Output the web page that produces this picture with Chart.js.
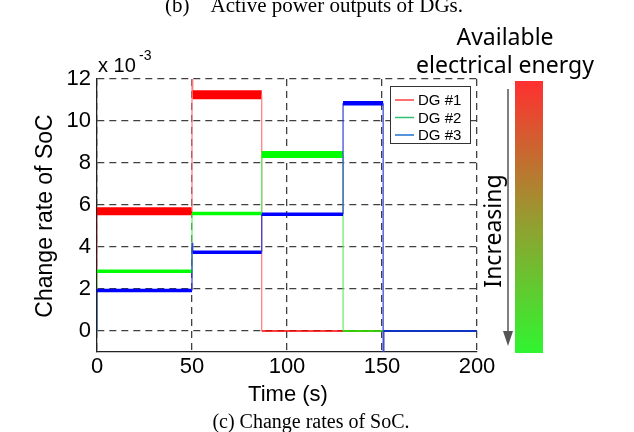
<!DOCTYPE html>
<html>
<head>
<meta charset="utf-8">
<script src="https://cdn.jsdelivr.net/npm/chart.js@4.4.1/dist/chart.umd.min.js"></script>
<style>
  body { margin: 0; background: #fff; }
</style>
</head>
<body>
<canvas id="chart1" width="634" height="432"></canvas>
<script>
// ejes
var xTicks = [0, 50, 100, 150, 200];
var yTicks = [0, 2, 4, 6, 8, 10, 12];
var etiquetas = ["DG #1", "DG #2", "DG #3"];

// cada serie: instante en que empieza cada tramo (s) y su valor (x 10^-3)
var dg1Tiempos = [0, 50, 50.4, 86.7];
var dg1Valores = [5.7, 12, 11.25, 0];
var dg2Tiempos = [0, 50, 86.7, 129.5];
var dg2Valores = [2.85, 5.6, 8.4, 0];
var dg3Tiempos = [0, 50, 50.4, 86.7, 129.5, 150.6, 151.0];
var dg3Valores = [1.93, 4.2, 3.75, 5.56, 10.85, -1, 0];

// grosor de cada tramo horizontal (ruido de la medida)
var grosor1 = [8, 3, 9, 1.5];
var grosor2 = [3.5, 3.5, 7, 1.5];
var grosor3 = [3.5, 3, 3.5, 3.5, 4.5, 1.5, 1.5];

function escalones(tiempos, valores) {
  var pts = [{x: 0, y: 0}];
  for (var i = 0; i < tiempos.length; i++) {
    var fin = i + 1 < tiempos.length ? tiempos[i + 1] : 200;
    pts.push({x: tiempos[i], y: valores[i]});
    pts.push({x: fin, y: valores[i]});
  }
  return pts;
}

function serie(label, tiempos, valores, grosor, color, colorVertical, orden) {
  return {
    label: label,
    data: escalones(tiempos, valores),
    borderColor: color,
    pointRadius: 0,
    tension: 0,
    order: orden,
    segment: {
      borderWidth: function(ctx) {
        if (ctx.p0DataIndex % 2 == 0) return 1.2;
        return grosor[(ctx.p0DataIndex - 1) / 2];
      },
      borderColor: function(ctx) {
        return ctx.p0DataIndex % 2 == 0 ? colorVertical : color;
      }
    }
  };
}

var textos = {
  id: "textos",
  afterDraw: function(chart) {
    var c = chart.ctx;
    c.save();
    c.fillStyle = "#000";

    // titulos superior e inferior
    c.font = "21px 'Liberation Serif'";
    c.textAlign = "center";
    c.textBaseline = "alphabetic";
    c.fillText("(b)    Active power outputs of DGs.", 314, 12);
    c.font = "20px 'Liberation Serif'";
    c.fillText("(c) Change rates of SoC.", 311, 428);

    c.font = "22px 'Liberation Sans'";
    c.fillText("Time (s)", 288, 401);

    c.save();
    c.translate(46, 216);
    c.rotate(-Math.PI / 2);
    c.textBaseline = "middle";
    c.font = "23px 'Liberation Sans'";
    c.fillText("Change rate of SoC", 0, 0);
    c.restore();

    // factor de escala
    c.textAlign = "left";
    c.font = "20px 'Liberation Sans'";
    c.fillText("x 10", 98, 72);
    c.font = "14px 'Liberation Sans'";
    c.fillText("-3", 139, 60);

    // leyenda
    var colores = ["#ff4040", "#30c070", "#2070d0"];
    c.fillStyle = "#fff";
    c.fillRect(390, 86, 80, 57);
    c.strokeStyle = "#333";
    c.lineWidth = 1;
    c.strokeRect(390.5, 86.5, 80, 57);
    c.font = "15px 'Liberation Sans'";
    c.textBaseline = "middle";
    for (var i = 0; i < etiquetas.length; i++) {
      var yy = 100 + i * 17.5;
      c.strokeStyle = colores[i];
      c.lineWidth = 1.5;
      c.beginPath();
      c.moveTo(395, yy);
      c.lineTo(414, yy);
      c.stroke();
      c.fillStyle = "#000";
      c.fillText(etiquetas[i], 418, yy + 1);
    }

    // barra de energia disponible
    var g = c.createLinearGradient(0, 81, 0, 353);
    g.addColorStop(0, "#ff3030");
    g.addColorStop(0.5, "#989a30");
    g.addColorStop(1, "#30f530");
    c.fillStyle = g;
    c.fillRect(515, 81, 28, 272);

    c.strokeStyle = "#555";
    c.fillStyle = "#555";
    c.lineWidth = 1.5;
    c.beginPath();
    c.moveTo(508, 89);
    c.lineTo(508, 332);
    c.stroke();
    c.beginPath();
    c.moveTo(503, 331);
    c.lineTo(513, 331);
    c.lineTo(508, 346);
    c.closePath();
    c.fill();

    c.fillStyle = "#000";
    c.font = "23px 'Noto Sans'";
    c.textAlign = "center";
    c.textBaseline = "alphabetic";
    c.fillText("Available", 505, 45);
    c.fillText("electrical energy", 505, 73);

    c.save();
    c.translate(494, 231);
    c.rotate(-Math.PI / 2);
    c.textBaseline = "middle";
    c.fillText("Increasing", 0, 0);
    c.restore();

    c.restore();
  }
};

var grafico1 = new Chart(document.getElementById("chart1"), {
  type: "line",
  data: {
    datasets: [
      serie(etiquetas[0], dg1Tiempos, dg1Valores, grosor1, "#ff0000", "#ff7878", 3),
      serie(etiquetas[1], dg2Tiempos, dg2Valores, grosor2, "#00ff00", "#60f060", 2),
      serie(etiquetas[2], dg3Tiempos, dg3Valores, grosor3, "#0000ff", "#3040d0", 1)
    ]
  },
  options: {
    responsive: false,
    animation: false,
    layout: { padding: { left: 0, right: 157, top: 79, bottom: 0 } },
    plugins: { legend: { display: false }, tooltip: { enabled: false } },
    scales: {
      x: {
        type: "linear",
        min: 0,
        max: 200,
        afterBuildTicks: function(s) { s.ticks = xTicks.map(function(v) { return {value: v}; }); },
        afterFit: function(s) { s.height = 80; },
        grid: { color: "#404040", drawTicks: false, lineWidth: 1.3 },
        border: { color: "#222", width: 1.3, dash: [7, 5] },
        ticks: { color: "#000", font: { family: "Liberation Sans", size: 22 }, padding: 2, maxRotation: 0 }
      },
      y: {
        min: -1,
        max: 12,
        afterBuildTicks: function(s) { s.ticks = yTicks.map(function(v) { return {value: v}; }); },
        afterFit: function(s) { s.width = 97; },
        grid: { color: "#404040", drawTicks: false, lineWidth: 1.3 },
        border: { color: "#222", width: 1.3, dash: [7, 5] },
        ticks: { color: "#000", font: { family: "Liberation Sans", size: 22 }, padding: 6 }
      }
    }
  },
  plugins: [textos]
});
</script>
</body>
</html>
